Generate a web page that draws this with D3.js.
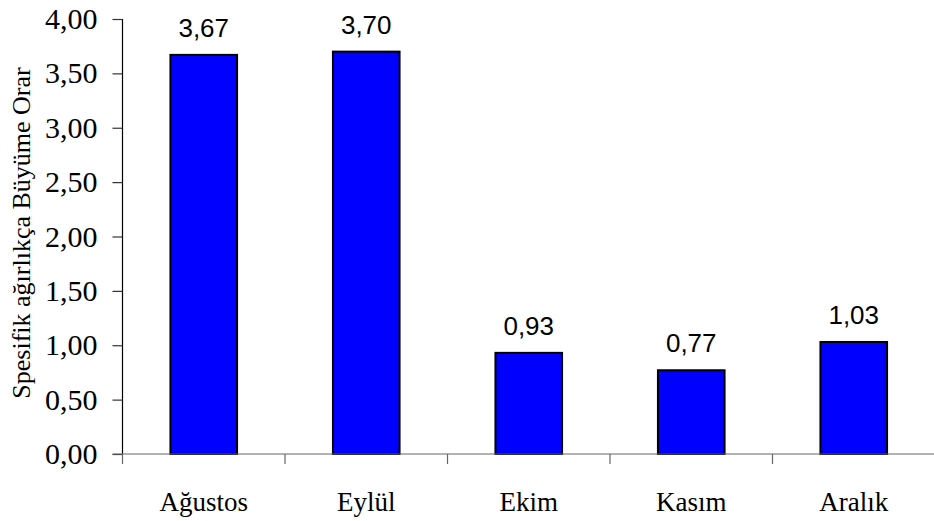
<!DOCTYPE html>
<html>
<head>
<meta charset="utf-8">
<title>Spesifik ağırlıkça büyüme oranı</title>
<script src="https://cdn.jsdelivr.net/npm/d3@7"></script>
<style>
  body { margin: 0; background: #fff; }
</style>
</head>
<body>
<svg id="chart" width="934" height="521"></svg>
<script>
// data
const months = ["Ağustos", "Eylül", "Ekim", "Kasım", "Aralık"];
const rates = [3.67, 3.70, 0.93, 0.77, 1.03];
const yTicks = [0, 0.5, 1, 1.5, 2, 2.5, 3, 3.5, 4];

const svg = d3.select("#chart");
const plotLeft = 122.5, plotRight = 935, plotTop = 19, plotBottom = 454;

const x = d3.scaleBand().domain(months).range([plotLeft, plotRight]).paddingInner(0.59).paddingOuter(0.295);
const band = (plotRight - plotLeft) / months.length;
const y = d3.scaleLinear().domain([0, 4]).range([plotBottom, plotTop]);

const fmt = v => d3.format(".2f")(v).replace(".", ",");

// bars
svg.append("g").selectAll("rect")
  .data(rates)
  .join("rect")
  .attr("x", (d, i) => x(months[i]))
  .attr("y", d => y(d))
  .attr("width", x.bandwidth())
  .attr("height", d => y(0) - y(d))
  .attr("fill", "#0000ff")
  .attr("stroke", "#000")
  .attr("stroke-width", 2);

// value labels
svg.append("g").selectAll("text")
  .data(rates)
  .join("text")
  .attr("x", (d, i) => x(months[i]) + x.bandwidth() / 2)
  .attr("y", d => y(d) - 18)
  .attr("text-anchor", "middle")
  .attr("font-family", "Liberation Sans, Arial, sans-serif")
  .attr("font-size", 26)
  .text(d => fmt(d));

// y axis
const yAxis = svg.append("g").attr("transform", `translate(${plotLeft},0)`)
  .call(d3.axisLeft(y).tickValues(yTicks).tickSize(10).tickPadding(15).tickFormat(fmt));
yAxis.select(".domain").attr("stroke", "#000").attr("stroke-width", 1.2).attr("d", `M0,${plotTop}V${plotBottom}`);
yAxis.selectAll(".tick line").attr("stroke", "#333").attr("stroke-width", 1.2);
yAxis.selectAll(".tick text")
  .attr("font-family", "Liberation Serif, Times New Roman, serif")
  .attr("font-size", 30)
  .attr("fill", "#000");

// x axis with ticks between categories
const xAxis = svg.append("g").attr("transform", `translate(0,${plotBottom})`);
xAxis.append("line").attr("x1", plotLeft - 10).attr("x2", plotRight).attr("stroke", "#666").attr("stroke-width", 1.2);
xAxis.selectAll(".sep")
  .data(d3.range(months.length + 1))
  .join("line")
  .attr("class", "sep")
  .attr("x1", i => plotLeft + i * band).attr("x2", i => plotLeft + i * band)
  .attr("y1", 0).attr("y2", 10)
  .attr("stroke", "#666").attr("stroke-width", 1.2);
xAxis.selectAll("text.lbl")
  .data(months)
  .join("text")
  .attr("class", "lbl")
  .attr("x", d => x(d) + x.bandwidth() / 2)
  .attr("y", 57)
  .attr("text-anchor", "middle")
  .attr("font-family", "Liberation Serif, Times New Roman, serif")
  .attr("font-size", 27)
  .text(d => d);

// y title
svg.append("text")
  .attr("transform", "translate(30,233) rotate(-90)")
  .attr("text-anchor", "middle")
  .attr("font-family", "Liberation Serif, Times New Roman, serif")
  .attr("font-size", 26)
  .text("Spesifik ağırlıkça Büyüme Orar");
</script>
</body>
</html>
